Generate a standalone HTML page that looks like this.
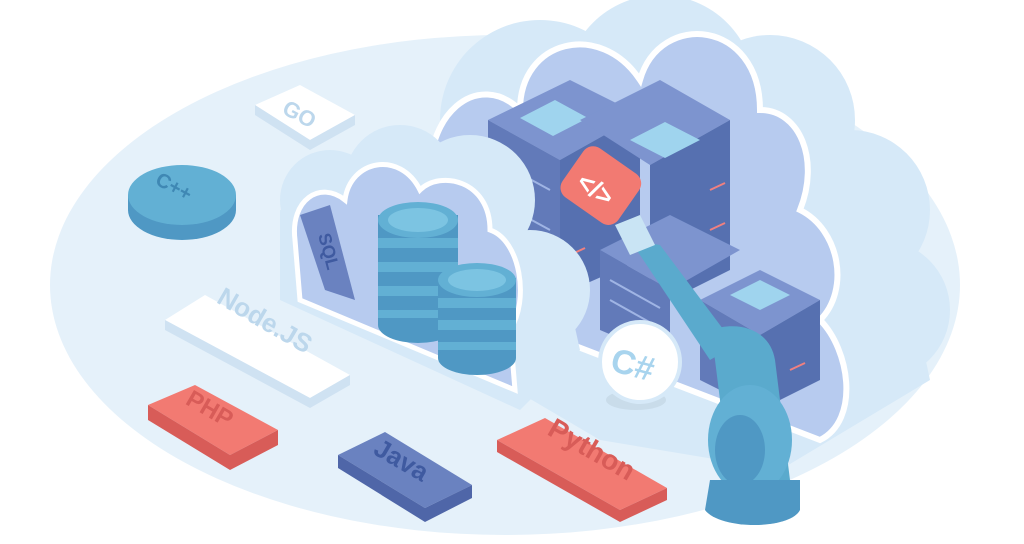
<!DOCTYPE html>
<html><head><meta charset="utf-8"><style>
html,body{margin:0;padding:0;background:#fff;width:1024px;height:544px;overflow:hidden}
svg{display:block}
text{font-family:"Liberation Sans",sans-serif;font-weight:bold}
</style></head><body>
<svg width="1024" height="544" viewBox="0 0 1024 544">
<!-- background ellipse -->
<ellipse cx="505" cy="285" rx="455" ry="250" fill="#e5f1fa"/>
<!-- big back cloud -->
<g fill="#d6e9f8">
<circle cx="540" cy="120" r="100"/><circle cx="660" cy="90" r="95"/><circle cx="770" cy="120" r="85"/>
<circle cx="850" cy="210" r="80"/><circle cx="880" cy="310" r="70"/>
<path d="M430 180 L560 60 L900 240 L930 380 L780 470 L600 440 L430 340Z"/>
</g>
<!-- cavity of big cloud -->
<g fill="#b7cbef" stroke="#fff" stroke-width="6">
<path d="M430 200 C420 110 480 70 520 110 C520 40 600 20 640 80 C660 10 760 20 760 110 C800 110 820 160 800 210 C840 230 850 290 820 320 C850 350 860 420 820 440 L560 340 L430 280Z"/>
</g>
<!-- servers back row -->
<g>
<polygon points="488,120 570,80 640,115 560,160" fill="#7d94cf"/>
<polygon points="488,120 560,160 560,295 488,255" fill="#627ab9"/>
<polygon points="560,160 640,115 640,260 560,295" fill="#5670b0"/>
<polygon points="520,118 555,100 588,118 553,136" fill="#9fd4ee"/>
<polygon points="580,120 660,80 730,120 650,165" fill="#7d94cf"/>
<polygon points="650,165 730,120 730,270 650,310" fill="#5670b0"/>
<polygon points="630,140 665,122 700,140 665,158" fill="#9fd4ee"/>
<polygon points="600,250 670,215 740,250 670,290" fill="#7d94cf"/>
<polygon points="600,250 670,290 670,360 600,330" fill="#627ab9"/>
<polygon points="700,300 760,270 820,300 760,335" fill="#7d94cf"/>
<polygon points="700,300 760,335 760,410 700,380" fill="#627ab9"/>
<polygon points="760,335 820,300 820,380 760,410" fill="#5670b0"/>
<polygon points="730,295 760,280 790,295 760,310" fill="#9fd4ee"/>
<g stroke="#9fb4e4" stroke-width="2">
<line x1="495" y1="160" x2="550" y2="190"/><line x1="495" y1="200" x2="550" y2="230"/><line x1="495" y1="240" x2="550" y2="268"/>
<line x1="610" y1="280" x2="660" y2="308"/><line x1="610" y1="300" x2="660" y2="328"/>
</g>
<g stroke="#f08080" stroke-width="2">
<line x1="710" y1="190" x2="725" y2="183"/><line x1="710" y1="230" x2="725" y2="223"/><line x1="790" y1="370" x2="805" y2="363"/><line x1="570" y1="255" x2="585" y2="248"/>
</g>
</g>
<!-- front small cloud -->
<g fill="#d6e9f8">
<circle cx="330" cy="200" r="50"/><circle cx="400" cy="180" r="55"/><circle cx="470" cy="200" r="65"/><circle cx="530" cy="290" r="60"/>
<path d="M280 210 L560 260 L580 350 L520 410 L280 300Z"/>
</g>
<path d="M295 240 C290 200 320 180 345 200 C350 160 400 150 420 190 C440 170 490 180 490 230 C520 240 530 300 510 330 L515 390 L300 300Z" fill="#b7cbef" stroke="#fff" stroke-width="5"/>
<!-- SQL tile -->
<polygon points="300,215 330,205 355,300 325,290" fill="#6a82c0"/>
<text transform="translate(318,235) rotate(75)" font-size="18" fill="#3f5aa0">SQL</text>
<!-- cylinders -->
<g>
<g fill="#4f98c4"><rect x="378" y="215" width="80" height="110"/><ellipse cx="418" cy="325" rx="40" ry="18"/></g>
<g fill="#62b0d4"><ellipse cx="418" cy="220" rx="40" ry="18"/><rect x="378" y="238" width="80" height="10"/><rect x="378" y="262" width="80" height="10"/><rect x="378" y="286" width="80" height="10"/><rect x="378" y="310" width="80" height="8"/></g>
<ellipse cx="418" cy="220" rx="30" ry="12" fill="#7cc4e2"/>
<g fill="#4f98c4"><rect x="438" y="278" width="78" height="80"/><ellipse cx="477" cy="358" rx="39" ry="17"/></g>
<g fill="#62b0d4"><ellipse cx="477" cy="280" rx="39" ry="17"/><rect x="438" y="298" width="78" height="10"/><rect x="438" y="320" width="78" height="10"/><rect x="438" y="342" width="78" height="8"/></g>
<ellipse cx="477" cy="280" rx="29" ry="11" fill="#7cc4e2"/>
</g>
<!-- C# circle -->
<ellipse cx="636" cy="400" rx="30" ry="10" fill="#c9dcea"/>
<ellipse cx="640" cy="362" rx="40" ry="40" fill="#fff" stroke="#d6e9f8" stroke-width="4"/>
<text x="612" y="378" font-size="34" fill="#a8d4ee" transform="rotate(15 640 362)">C#</text>
<!-- robot arm -->
<g fill="#5aaacd">
<path d="M630 240 L660 245 L735 345 L710 360 Z"/>
<path d="M710 330 C740 320 770 330 775 360 L790 480 L730 480 L715 360Z"/>
<ellipse cx="750" cy="440" rx="42" ry="55" fill="#62b0d4"/>
<ellipse cx="740" cy="450" rx="25" ry="35" fill="#4f98c4"/>
<path d="M710 480 L800 480 L800 510 C790 530 720 530 705 510Z" fill="#4f98c4"/>
<polygon points="615,225 640,215 655,245 630,255" fill="#c9e4f4"/>
</g>
<!-- code tile -->
<rect x="567" y="155" width="68" height="60" rx="12" fill="#f27a72" transform="rotate(35 600 185)"/>
<text x="580" y="200" font-size="26" fill="#fff" transform="rotate(35 600 185)">&lt;/&gt;</text>
<!-- GO -->
<polygon points="255,105 300,85 355,115 310,140" fill="#fff"/>
<polygon points="255,105 310,140 310,150 255,115" fill="#cfe2f2"/>
<polygon points="310,140 355,115 355,125 310,150" fill="#cfe2f2"/>
<text x="282" y="122" font-size="22" fill="#bcd7ec" transform="rotate(28 300 115)">GO</text>
<!-- C++ -->
<ellipse cx="182" cy="210" rx="54" ry="30" fill="#4f98c4"/>
<rect x="128" y="195" width="108" height="15" fill="#4f98c4"/>
<ellipse cx="182" cy="195" rx="54" ry="30" fill="#62b0d4"/>
<text x="152" y="198" font-size="20" fill="#3f88b4" transform="rotate(28 182 195)">C++</text>
<!-- Node.JS -->
<polygon points="165,320 205,295 350,375 310,398" fill="#fff"/>
<polygon points="165,320 310,398 310,408 165,330" fill="#cfe2f2"/>
<polygon points="310,398 350,375 350,385 310,408" fill="#cfe2f2"/>
<text x="200" y="330" font-size="26" fill="#bcd7ec" transform="rotate(30 260 345)">Node.JS</text>
<!-- PHP -->
<polygon points="148,405 195,385 278,430 230,455" fill="#f27a72"/>
<polygon points="148,405 230,455 230,470 148,420" fill="#d85c58"/>
<polygon points="230,455 278,430 278,445 230,470" fill="#d85c58"/>
<text x="180" y="420" font-size="24" fill="#d85c58" transform="rotate(30 213 420)">PHP</text>
<!-- Java -->
<polygon points="338,455 385,432 472,485 425,508" fill="#6a82c0"/>
<polygon points="338,455 425,508 425,522 338,468" fill="#4f66a8"/>
<polygon points="425,508 472,485 472,498 425,522" fill="#4f66a8"/>
<text x="368" y="472" font-size="26" fill="#3f5aa0" transform="rotate(30 405 470)">Java</text>
<!-- Python -->
<polygon points="497,440 545,418 667,488 620,510" fill="#f27a72"/>
<polygon points="497,440 620,510 620,522 497,452" fill="#d85c58"/>
<polygon points="620,510 667,488 667,500 620,522" fill="#d85c58"/>
<text x="535" y="455" font-size="28" fill="#d85c58" transform="rotate(30 580 465)">Python</text>
</svg>
</body></html>
